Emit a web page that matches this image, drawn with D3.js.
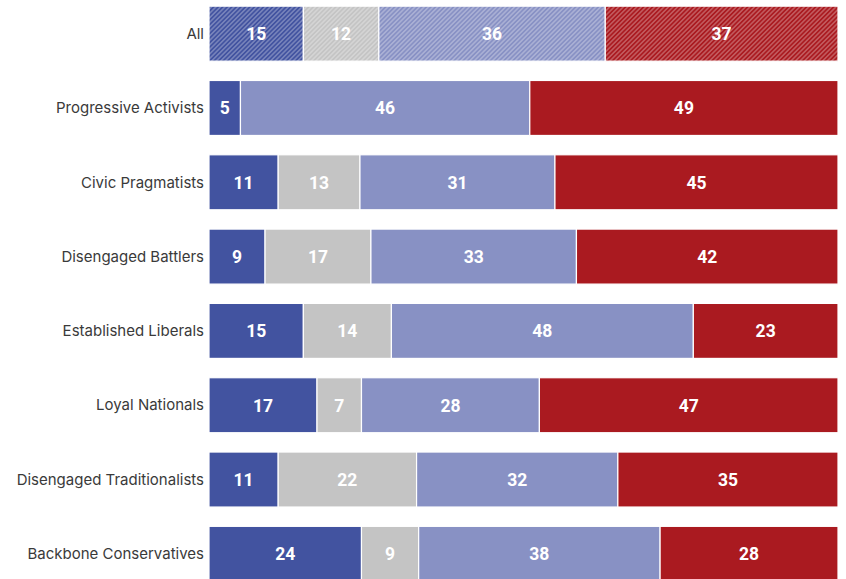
<!DOCTYPE html>
<html><head><meta charset="utf-8">
<script src="https://cdn.jsdelivr.net/npm/d3@7"></script>
<style>body{margin:0;background:#fff;}svg{display:block;}</style>
</head><body><svg id="c" width="846" height="579"></svg>
<script>
const categories = ["All","Progressive Activists","Civic Pragmatists","Disengaged Battlers","Established Liberals","Loyal Nationals","Disengaged Traditionalists","Backbone Conservatives"];
const seriesA = [15,5,11,9,15,17,11,24];
const seriesB = [12,0,13,17,14,7,22,9];
const seriesC = [36,46,31,33,48,28,32,38];
const seriesD = [37,49,45,42,23,47,35,28];
const colors = ["#4253a0","#c4c4c4","#8891c4","#aa1a20"];

const svg = d3.select("#c");
const x = d3.scaleLinear().domain([0,1]).range([209,838]);
const y = d3.scaleBand().domain(categories).range([-3.5, 591]).paddingInner(0.26).paddingOuter(0.13);

const defs = svg.append("defs");
colors.forEach((c,i)=>{
  const p = defs.append("pattern").attr("id","h"+i).attr("patternUnits","userSpaceOnUse")
    .attr("width",3.2).attr("height",3.2).attr("patternTransform","rotate(45)");
  p.append("rect").attr("width",3.2).attr("height",3.2).attr("fill",c);
  p.append("line").attr("x1",0.8).attr("y1",0).attr("x2",0.8).attr("y2",3.2)
    .attr("stroke","#fff").attr("stroke-opacity",0.4).attr("stroke-width",1.1);
});

const rows = categories.map((cat,i)=>{
  const vals=[seriesA[i],seriesB[i],seriesC[i],seriesD[i]];
  const tot=d3.sum(vals);
  let acc=0;
  return {cat, segs: vals.map((v,k)=>{const s={k,v,x0:acc/tot,x1:(acc+v)/tot};acc+=v;return s;})};
});

const g = svg.selectAll("g.row").data(rows).join("g").attr("class","row");
g.append("text").attr("x",204).attr("y",d=>y(d.cat)+y.bandwidth()/2).attr("dy","0.35em")
  .attr("text-anchor","end").attr("font-family","Inter, 'Noto Sans', sans-serif").attr("font-size",15).attr("fill","#3a3a3a")
  .text(d=>d.cat);

g.each(function(d,i){
  const segs=d.segs.filter(s=>s.v>0);
  const sel=d3.select(this);
  sel.selectAll("rect").data(segs).join("rect")
    .attr("x",s=>x(s.x0)).attr("width",s=>x(s.x1)-x(s.x0))
    .attr("y",y(d.cat)).attr("height",y.bandwidth())
    .attr("fill",s=> i===0 ? `url(#h${s.k})` : colors[s.k])
    .attr("stroke","#fff").attr("stroke-width",1.2);
  sel.selectAll("text.v").data(segs).join("text").attr("class","v")
    .attr("x",s=>(x(s.x0)+x(s.x1))/2).attr("y",y(d.cat)+y.bandwidth()/2).attr("dy","0.36em")
    .attr("text-anchor","middle").attr("font-family","Roboto, sans-serif").attr("font-weight","bold")
    .attr("font-size",17.5).attr("fill","#fff").text(s=>s.v);
});
</script></body></html>
